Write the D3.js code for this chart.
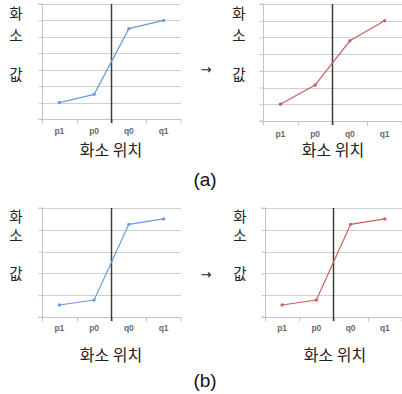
<!DOCTYPE html>
<html>
<head>
<meta charset="utf-8">
<script src="https://cdn.jsdelivr.net/npm/d3@7"></script>
<style>
  html, body { margin: 0; padding: 0; background: #fff; }
  svg { display: block; }
</style>
</head>
<body>
<svg id="chart" width="402" height="394"></svg>
<script>
// pixel positions along the edge
var categories = ["p1", "p0", "q0", "q1"];
var valuesABefore = [1, 1.5, 5.5, 6];
var valuesAAfter = [1, 2.15, 4.8, 6];
var valuesBBefore = [0.55, 0.78, 4.25, 4.5];
var valuesBAfter = [0.55, 0.78, 4.25, 4.5];
var yLabelChars = ["화", "소", "값"];
var xTitle = "화소 위치";

var svg = d3.select("#chart");
var blue = "#6b9bd8", red = "#c5625f";

function drawPanel(p){
    var g = svg.append("g");
    var xScale = d3.scaleBand().domain(categories).range([p.x0, p.x1]);
    var yScale = d3.scaleLinear().domain([0, p.max]).range([p.y1, p.y0]);

    // gridlines
    g.selectAll(".grid").data(d3.range(1, p.max + 1))
        .enter().append("line")
        .attr("x1", p.x0).attr("x2", p.x1)
        .attr("y1", function(d){ return Math.round(yScale(d)) + 0.5; })
        .attr("y2", function(d){ return Math.round(yScale(d)) + 0.5; })
        .attr("stroke", "#cfcfcf").attr("stroke-width", 1);

    // y axis
    var yAxis = d3.axisLeft(yScale).ticks(p.max).tickSize(4).tickFormat("");
    var ya = g.append("g").attr("transform", "translate(" + (p.x0 + 0.5) + ",0)").call(yAxis);
    ya.selectAll("path, line").attr("stroke", "#c4c4c4");
    ya.select(".domain").attr("d", "M-4," + p.y1 + "H0V" + p.y0 + "H-4");

    // x axis: ticks at band boundaries
    var xa = g.append("g").attr("transform", "translate(0," + (p.y1 + 0.5) + ")");
    xa.append("line").attr("x1", p.x0).attr("x2", p.x1).attr("stroke", "#c4c4c4");
    xa.selectAll(".bt").data(categories.concat(["end"]))
        .enter().append("line")
        .attr("x1", function(d){ return d === "end" ? p.x1 : Math.round(xScale(d)) + 0.5; })
        .attr("x2", function(d){ return d === "end" ? p.x1 : Math.round(xScale(d)) + 0.5; })
        .attr("y1", 0).attr("y2", 4).attr("stroke", "#c4c4c4");
    xa.selectAll("text").data(categories)
        .enter().append("text")
        .attr("x", function(d){ return xScale(d) + xScale.bandwidth() / 2; })
        .attr("y", p.tickY - p.y1)
        .attr("text-anchor", "middle")
        .attr("font-family", "Liberation Sans, Arial, sans-serif")
        .attr("font-size", 8.5).attr("font-weight", "bold")
        .attr("fill", "#6a6a6a")
        .text(function(d){ return d; });

    // divider between p0 and q0
    var xd = xScale("q0");
    g.append("line").attr("x1", xd).attr("x2", xd).attr("y1", p.y0).attr("y2", p.y1 + 4)
        .attr("stroke", "#3c3c3c").attr("stroke-width", 1.5);

    // line + points
    var pts = categories.map(function(c, i){ return {name: c, v: p.values[i]}; });
    var line = d3.line()
        .x(function(d){ return xScale(d.name) + xScale.bandwidth() / 2; })
        .y(function(d){ return yScale(d.v); });
    g.append("path").attr("d", line(pts)).attr("fill", "none")
        .attr("stroke", p.color).attr("stroke-width", 1.2);
    g.selectAll(".pt").data(pts).enter().append("circle")
        .attr("cx", function(d){ return xScale(d.name) + xScale.bandwidth() / 2; })
        .attr("cy", function(d){ return yScale(d.v); })
        .attr("r", 1.7).attr("fill", p.color);

    // vertical y label
    g.selectAll(".yl").data(yLabelChars).enter().append("text")
        .attr("x", p.labX)
        .attr("y", function(d, i){ return p.labY[i]; })
        .attr("text-anchor", "middle")
        .attr("font-family", "Noto Sans CJK KR, sans-serif")
        .attr("font-size", 14.5).attr("fill", "#222")
        .text(function(d){ return d; });

    // x title
    g.append("text").attr("x", p.titleX).attr("y", p.titleY)
        .attr("text-anchor", "middle")
        .attr("font-family", "Noto Sans CJK KR, sans-serif")
        .attr("font-size", 16).attr("fill", "#222")
        .text(xTitle);
}

drawPanel({x0: 42, x1: 181, y0: 4, y1: 119, max: 7, values: valuesABefore, color: blue,
    tickY: 133, labX: 16, labY: [19, 41, 80], titleX: 111, titleY: 156});
drawPanel({x0: 263, x1: 402, y0: 4, y1: 121, max: 7, values: valuesAAfter, color: red,
    tickY: 136, labX: 239, labY: [19, 41, 80], titleX: 333, titleY: 156});
drawPanel({x0: 42, x1: 181, y0: 208, y1: 317, max: 5, values: valuesBBefore, color: blue,
    tickY: 330, labX: 16, labY: [222, 241, 279], titleX: 111, titleY: 361});
drawPanel({x0: 265, x1: 402, y0: 208, y1: 317, max: 5, values: valuesBAfter, color: red,
    tickY: 330, labX: 240, labY: [222, 241, 279], titleX: 335, titleY: 361});

// arrows and captions
[[206, 74], [206, 279]].forEach(function(a){
    svg.append("text").attr("x", a[0]).attr("y", a[1]).attr("text-anchor", "middle")
        .attr("font-family", "DejaVu Sans, sans-serif").attr("font-size", 13).attr("fill", "#222")
        .text("→");
});
[["(a)", 186], ["(b)", 387]].forEach(function(c){
    svg.append("text").attr("x", 205).attr("y", c[1]).attr("text-anchor", "middle")
        .attr("font-family", "Liberation Sans, Arial, sans-serif").attr("font-size", 19).attr("fill", "#111")
        .text(c[0]);
});
</script>
</body>
</html>
